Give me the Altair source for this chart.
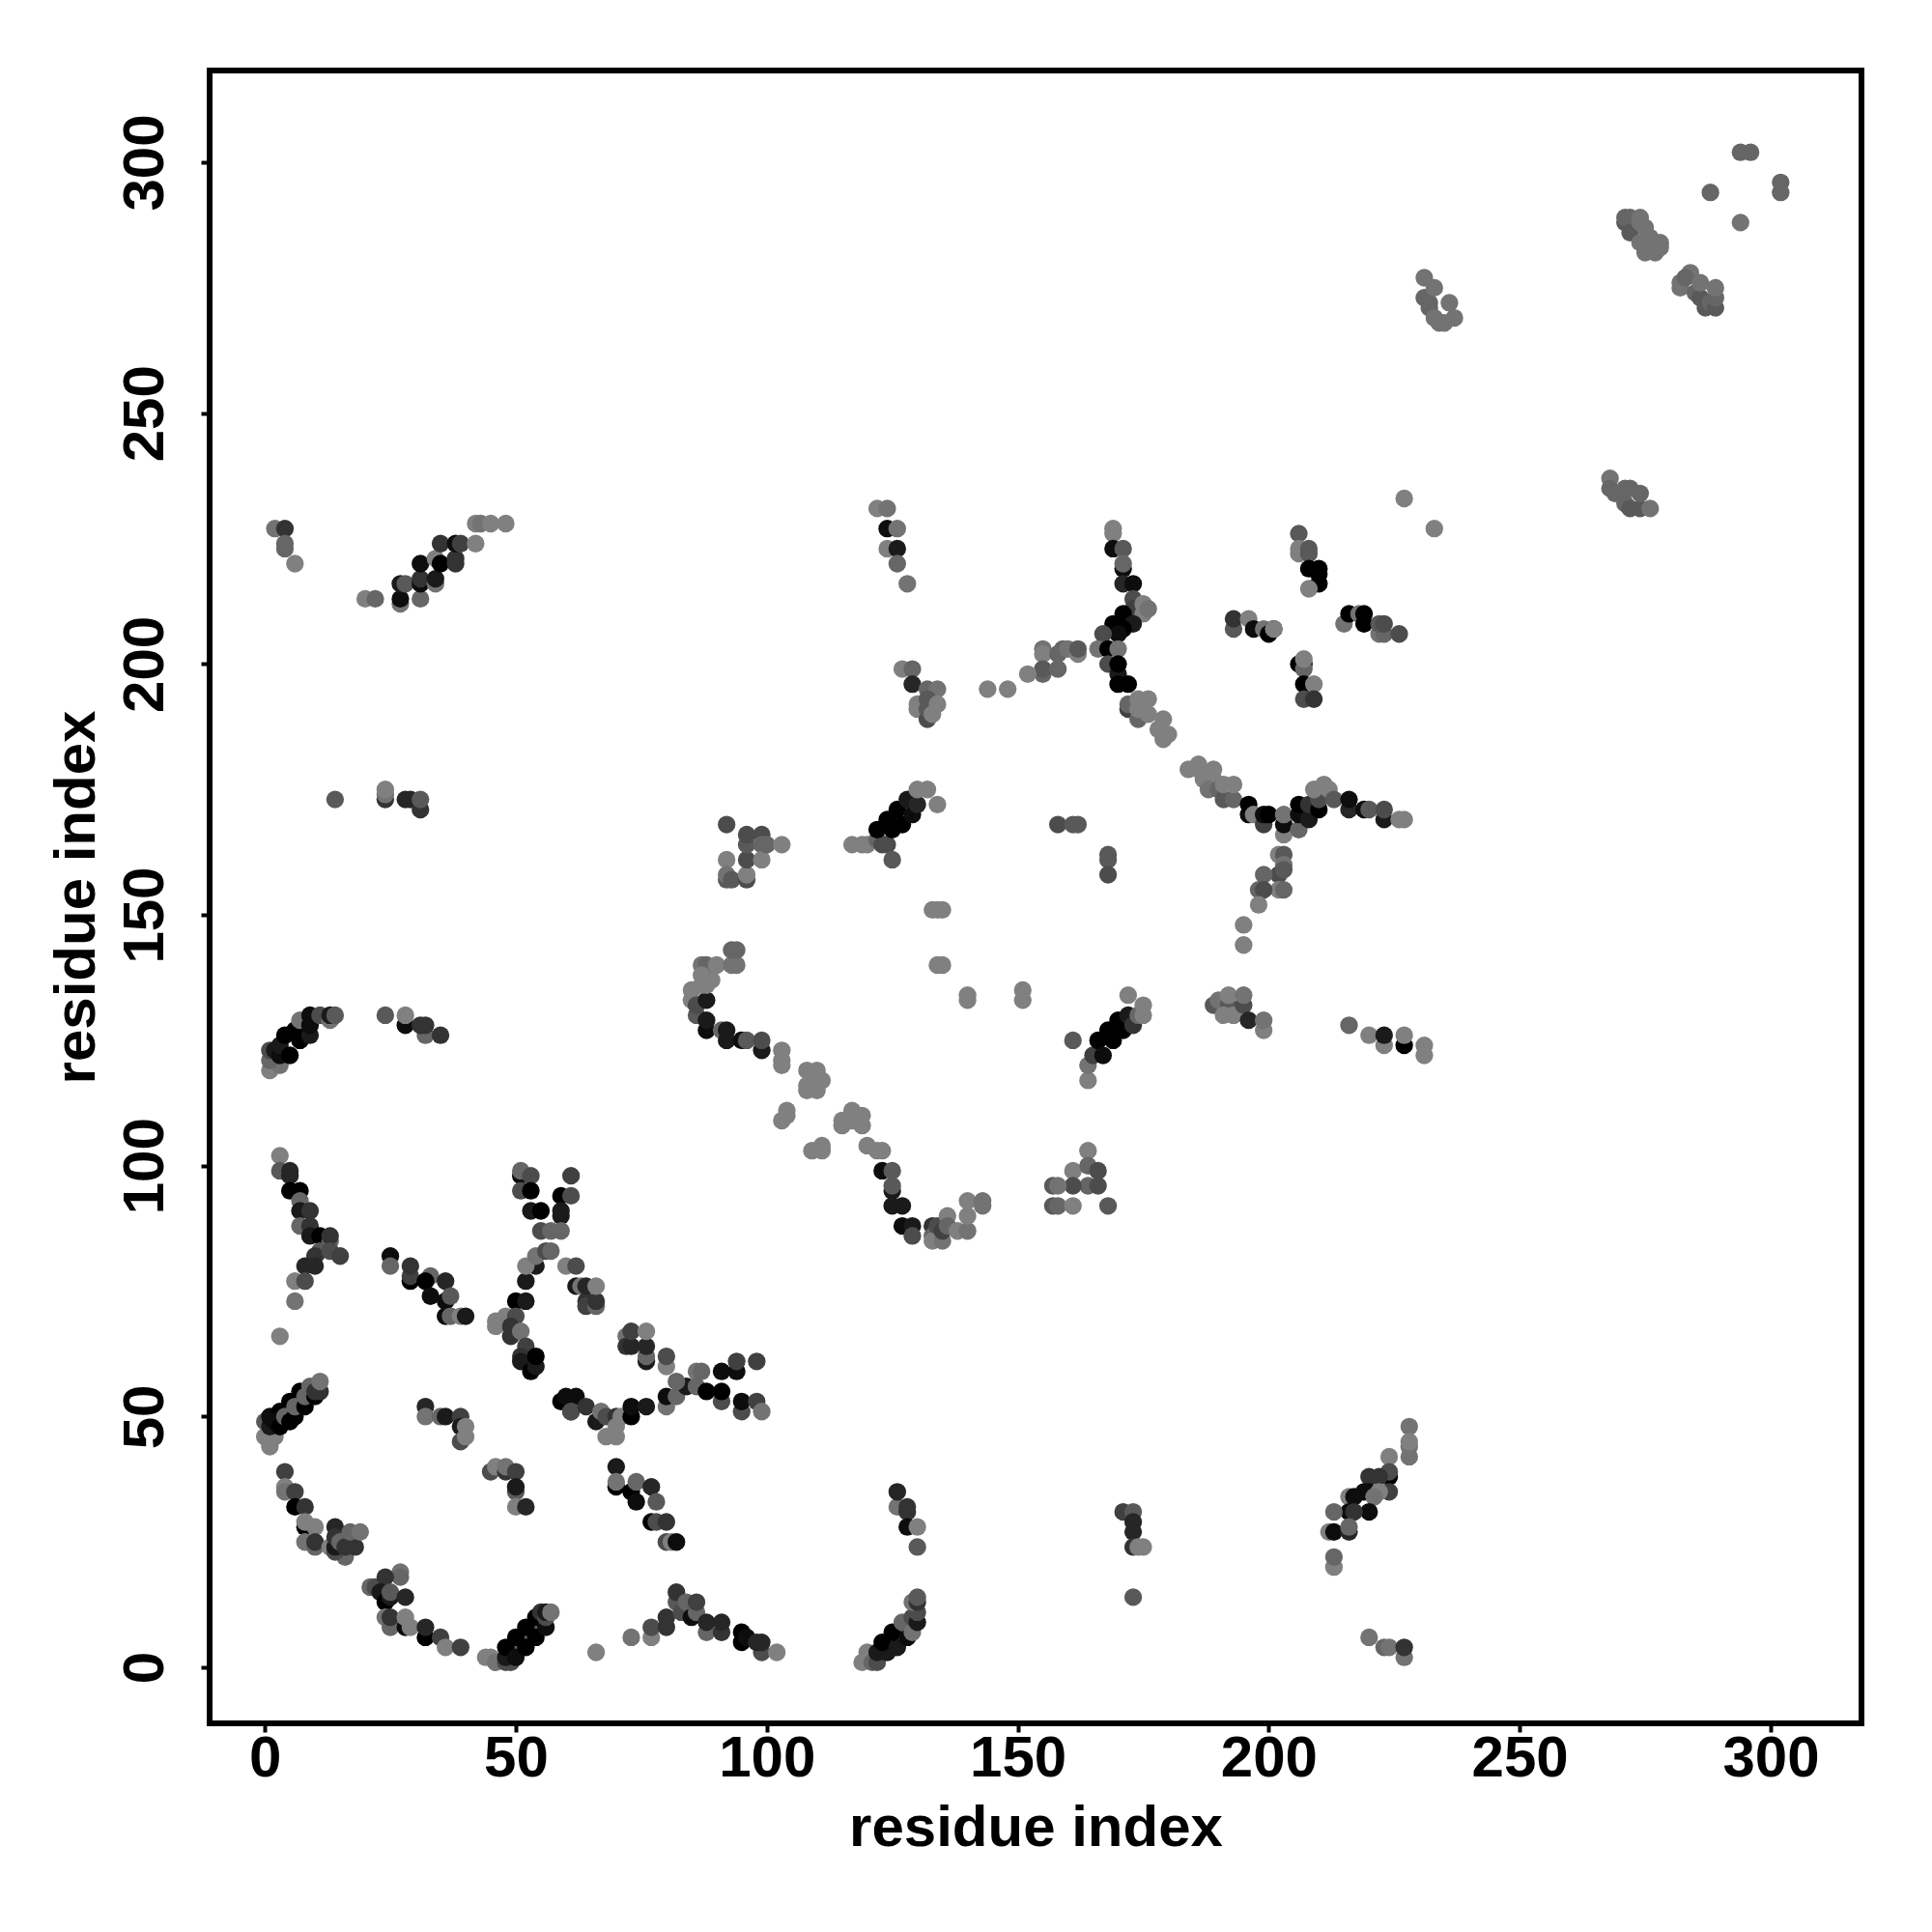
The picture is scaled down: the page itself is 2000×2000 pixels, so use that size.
import altair as alt
import pandas as pd

# Each contact is (residue x, residue y, grey level 0 = black .. 0.5 = mid grey)
arc_low_left = [(4,39,.25),(4,36,.5),(4,35,.45),(6,35,.25),(6,32,0),(8,32,.2),(8,28,0),(8,29,.5),(10,28,.5),(14,28,.15),
 (8,25,.45),(10,24,.4),(10,25,.2),(13,24,.5),(16,22,.4),(14,23,.3),(14,24,.1),(14,26,.2),(15,25,.4),(16,24,.2),(18,24,.2),(17,27,.4),(19,27,.45)]
arc_low_mid = [(27,19,.45),(27,18,.4),(21,16,.4),(22,16,.3),(24,18,.2),(23,15,.1),(24,13,0),(25,14,.1),(25,15,.35),(28,14,.15),
 (24,10,.45),(25,8,.4),(25,10,.2),(28,8,.05),(28,10,.5),(29,8,.5),(32,6,0),(32,8,.15),(35,6,.25),(36,4,.5),(39,4,.25)]
helix_a = [(44,2,.5),(45,2,.5),(46,1,.45),(48,1,.3),(49,1,.3),(49,3,.4),(51,5,.4),(53,7,.4),(55,9,.4),(48,2,.1),(48,4,0),(50,6,0),(52,8,0),(54,10,0),
 (50,2,.05),(52,4,0),(54,6,0),(56,8,.05),(55,11,.2),(56,10,.3),(56,11,.1),(57,11,.45)]
helix_b = [(1,46,.5),(1,44,.5),(0,46,.5),(2,46,.5),(0,49,.35),(1,48,.1),(1,50,.05),(3,51,0),(5,53,0),(7,55,0),(2,49,.05),(3,48,0),(4,50,.4),(5,49,0),(6,50,0),(6,52,.4),(8,52,0),(8,54,.4),(10,54,0),(9,56,.4),(10,55,.2),(11,55,.2),(11,57,.45)]
bridge_a = [(66,3,.5),(73,6,.45),(77,6,.5),(77,8,.3),(80,8,.2),(80,10,.2),(82,13,.35),(82,15,.2),(83,11,.3),(84,13,.4),(85,10,.05),(86,11,.4),(86,13,.25),
 (88,7,.4),(88,9,.15),(91,7,.2),(91,9,.15),(95,7,0),(95,5,0),(96,6,.05),(99,3,.3),(98,5,.15),(99,5,.15),(102,3,.5)]
strand_a = [(126,32,.45),(126,35,.15),(128,31,.2),(128,32,.2),(128,28,.05),(130,28,.5),(130,24,.35)]
helix_c = [(119,1,.5),(120,3,.5),(121,1,.4),(122,1,.3),(122,3,.1),(124,3,.1),(123,5,0),(126,4,.1),(125,7,0),(128,6,.05),(127,9,.4),(129,7,.45),(129,10,.3),(130,9,.1),(130,11,.3),(129,13,.45),(130,13,.2),(130,14,.35)]
strand_b = [(171,31,.25),(173,31,.35),(173,29,.15),(173,27,.15),(173,24,.2),(174,24,.5),(175,24,.5),(173,14,.35)]
strand_c = [(70,40,.1),(70,36,0),(70,37,.45),(73,35,0),(74,37,.4),(74,33,.05),(77,36,.15),(77,29,0),(78,29,.3),(78,33,.35),(80,29,.2),(80,25,.3),(81,25,.5),(82,25,.05)]
strand_d = [(32,52,.15),(32,50,.45),(35,50,.4),(36,50,.1),(39,50,.25),(39,48,.1),(40,48,.5),(39,45,.3),(40,46,.5)]
strand_e = [(45,39,.3),(46,40,.5),(48,39,.2),(48,40,.45),(50,39,.25),(50,35,.35),(50,36,.1),(50,32,.5),(52,32,.15)]
strand_f = [(25,82,.05),(25,80,.4),(29,77,0),(29,78,.25),(29,80,.2),(33,78,.4),(32,77,0),(33,74,.05),(36,77,.15),(36,73,.05),(37,74,.35),(36,70,.05),(37,70,.4),(39,70,.5),(40,70,.1)]
fork_a = [(46,69,.5),(46,68,.5),(48,70,.5),(50,73,0),(52,73,.1),(52,77,.1),(54,80,.1),(52,80,.5),(50,70,.3),(49,68,.2),(49,66,.2),(51,67,.45),(52,64,.25),(51,62,.2),(51,61,.1),(53,59,0),(54,60,.1),(54,62,0)]
fork_b = [(60,80,.5),(62,80,.3),(62,76,.1),(63,76,.45),(64,73,.2),(64,72,.25),(64,76,.15),(66,72,.4),(66,73,.2),(66,76,.5),
 (72,66,.45),(72,64,.2),(73,64,.15),(73,67,.25),(76,61,.1),(76,62,.4),(76,64,.15),(76,67,.5),(80,60,.5),(80,62,.3)]
row_a = [(59,53,0),(60,54,.05),(62,54,.05),(61,51,.2),(61,51,.3),(64,52,.2),(66,49,.1),(67,51,.45),(68,50,.3),(70,50,.2),(68,46,.5),(70,46,.5),(70,48,.5),(71,50,.5),(73,50,0),(73,52,.05),(76,52,.1),
 (80,52,.45),(80,54,.05),(82,54,.4),(84,56,.1),(82,57,.4),(86,59,.45),(86,56,.4),(87,59,.4),(88,55,0),(91,53,.3),(91,55,0),(91,59,.05),(94,59,.05),(94,61,.25),(95,51,.3),(95,53,.05),(98,53,.25),(98,61,.25),(99,51,.45)]
cluster_up = [(3,102,.5),(3,99,.35),(5,98,.15),(5,99,.15),(5,95,0),(7,95,0),(7,93,.4),(7,91,.1),(9,91,.2),(7,88,.4),(9,88,.2),(9,86,.1),(11,86,0),(13,85,.4),(13,86,.2),(11,83,.35),(10,82,.2),(13,83,.3),(15,82,.25),(8,80,.15),(10,80,.15),(6,77,.5),(8,77,.3),(6,73,.45),(3,66,.5)]
fork_c = [(51,98,.05),(51,99,.4),(53,98,.3),(51,95,.3),(53,95,0),(53,91,.1),(55,91,0),(61,98,.25),(59,94,0),(61,94,.3),(59,90,.1),(59,91,.1),(55,87,.3),(57,87,.4),(59,87,.4),(54,82,.45),(56,83,.3),(57,83,.4)]
helix_d = [(1,119,.5),(3,120,.45),(1,121,.4),(1,123,.3),(2,123,.1),(3,122,.05),(3,124,.1),(5,122,0),(4,126,0),(7,125,0),(6,127,0),(9,126,.1),(7,129,.45),(9,128,.05),(9,130,.05),(11,130,.3),(13,129,.45),(13,130,.1),(14,130,.35),
 (24,130,.35),(28,128,.05),(28,130,.5),(32,126,.4),(31,128,.2),(32,128,.2),(35,126,.2)]
diag_mid = [(87,140,.45),(88,140,.4),(90,140,.5),(93,140,.45),(94,140,.45),(93,143,.4),(94,143,.4),(85,135,.5),(85,133,.5),(86,130,.35),(86,132,.3),(88,133,.1),(87,136,.5),(87,138,.5),(88,136,.5),(89,137,.5),
 (88,127,.05),(88,129,.1),(91,127,.4),(92,125,.1),(92,127,.1),(95,125,.05),(96,125,.35),(99,123,.1),(99,125,.3),(103,123,.5),(103,121,.5),(103,120,.5),(108,119,.5),(110,119,.5),(110,117,.5),(111,117,.5),(108,116,.5),(108,115,.5),(110,115,.5),
 (104,111,.5),(104,110,.5),(103,109,.5),(109,103,.5),(111,104,.5),(111,103,.5),(117,111,.5),(115,109,.5),(119,110,.5),(119,108,.5),(115,108,.5),(117,109,.5),(120,104,.5),(122,103,.5),(123,103,.5)]
valley = [(123,99,.05),(125,99,.35),(125,95,.1),(125,96,.35),(125,92,.1),(127,92,.1),(127,88,.05),(129,88,.1),(129,86,.3),(133,88,.2),(133,86,.4),(133,85,.5),(135,85,.45),(134,88,.3),(135,87,.25),(136,90,.5),(136,88,.4),(138,87,.5),(140,87,.45),(140,93,.5),(140,90,.5),(143,93,.45),(143,92,.45)]
sparse_a = [(134,140,.5),(135,140,.5),(140,134,.5),(140,133,.5),(151,135,.5),(151,133,.5),(133,151,.5),(134,151,.5),(135,151,.5),(161,125,.35)]
helix_e = [(164,117,.5),(164,120,.45),(165,122,.25),(166,125,0),(167,122,.05),(168,127,0),(169,125,0),(170,129,0),(171,127,0),(172,130,.1),(173,128,.2),(174,130,.4),(172,134,.5),(175,132,.5),(175,130,.5)]
patch_a = [(164,103,.5),(161,99,.5),(164,100,.4),(166,99,.3),(164,96,.4),(166,96,.3),(161,96,.3),(157,96,.35),(158,96,.45),(157,92,.35),(158,92,.4),(161,92,.5),(168,92,.35)]
star_up = [(169,227,.5),(169,226,.5),(169,223,.05),(171,223,.35),(171,219,.05),(171,220,.4),(171,216,.15),(173,216,.05),(173,213,.3),(173,211,.25),(175,212,.5),(175,210,.5),(176,211,.45),
 (169,208,0),(171,210,0),(173,208,.1),(171,207,0),(170,206,.05),(167,206,.3),(166,203,.45),(168,203,0),(170,203,.45),(168,200,.3),(170,198,.1),(170,200,0),(170,196,0),(172,196,0),
 (172,191,.25),(172,192,.4),(174,193,.5),(176,193,.5),(174,189,.4),(174,191,.5),(176,190,.5),(178,187,.5),(179,189,.5),(180,186,.5),(179,185,.5)]
star_left = [(155,203,.45),(155,202,.5),(158,202,.4),(159,203,.4),(160,203,.45),(162,202,.5),(162,203,.35),(155,198,.4),(155,199,.35),(158,199,.4),(152,198,.5),(148,195,.5),(144,195,.5),
 (158,168,.3),(161,168,.35),(162,168,.35),(168,162,.35),(168,161,.35),(168,158,.3)]
blobs = [(193,207,.35),(193,209,.2),(196,209,.5),(197,207,.05),(199,207,.45),(200,206,0),(201,207,0),(201,207,.5),
 (206,226,.35),(206,222,.5),(206,223,.5),(208,222,.35),(208,223,.35),(208,219,0),(210,218,0),(210,219,0),(210,216,0),(208,215,.5),
 (206,200,0),(207,200,0),(207,199,.4),(207,201,.5),(207,196,0),(209,196,.5),(207,193,.3),(209,193,.2),
 (215,208,.45),(216,210,0),(218,210,.45),(219,208,0),(219,210,0),(222,206,.45),(223,206,.4),(222,208,.35),(223,208,.3),(226,206,.3)]
ridge = [(184,179,.5),(186,179,.5),(186,180,.5),(189,179,.5),(187,177,.5),(189,177,.5),(188,175,.45),(190,175,.4),(191,173,.35),(193,173,.4),(191,176,.5),(193,176,.5),(196,170,.05),(196,172,0),(197,170,.5),
 (199,168,.25),(199,170,.05),(200,170,0),(203,166,.5),(203,168,.05),(203,170,.45),(206,167,.4),(206,170,.05),(206,172,0),(208,169,.1),(208,172,.2),(210,171,0),(210,173,.3),(209,175,.5),(211,176,.5),(212,175,.5),(213,173,.35),
 (216,171,.15),(216,173,.05),(219,171,.05),(220,171,.35),(223,169,.1),(223,171,.3),(226,169,.5),(227,169,.5)]
stem = [(202,162,.5),(203,162,.35),(203,160,.45),(202,158,.3),(203,159,.35),(202,155,.5),(203,155,.4),(199,158,.4),(198,155,.4),(199,155,.3),(198,152,.5),(195,148,.5),(195,144,.5),
 (189,132,.35),(190,133,.45),(192,132,.35),(192,134,.5),(191,130,.5),(193,130,.5),(195,132,.3),(195,134,.45),(196,129,.15),(199,127,.5),(199,129,.45),
 (216,128,.4),(220,126,.5),(223,124,.5),(223,126,.1),(227,124,0),(227,126,.5),(231,122,.5),(231,124,.5)]
top_left = [(2,227,.45),(4,227,.2),(4,223,.4),(4,224,.4),(6,220,.5),(20,213,.5),(22,213,.4),(27,212,.45),(27,213,.05),(31,213,.4),(27,216,.1),(28,216,.35),(31,216,.05),(31,217,.2),(34,216,.45),(34,217,.1),
 (31,220,.05),(34,221,.5),(35,220,0),(38,220,.2),(38,221,.2),(35,224,.2),(38,224,.05),(39,224,.25),(42,224,.5),(42,228,.5),(43,228,.45),(45,228,.5),(48,228,.5),
 (14,173,.35),(24,173,.2),(24,174,.45),(24,175,.5),(28,173,.15),(29,173,.15),(31,171,.2),(31,173,.35)]
top_mid = [(122,231,.5),(124,231,.45),(124,227,.05),(126,227,.45),(124,223,.5),(126,223,.1),(126,220,.4),(128,216,.45),
 (127,199,.5),(129,199,.4),(129,196,.15),(132,195,.4),(134,195,.45),(130,191,.5),(130,192,.5),(132,189,.3),(132,191,.35),(132,193,.35),(133,190,.5),(134,192,.5),
 (92,168,.3),(92,161,.5),(92,157,.35),(92,158,.45),(93,157,.35),(96,157,.3),(96,158,.5),(96,161,.3),(96,164,.35),(96,166,.3),(99,166,.3),(99,164,.4),(99,161,.5),(100,164,.4),(103,164,.5)]
helix_f = [(117,164,.5),(119,164,.5),(120,164,.5),(122,165,.4),(123,164,.3),(124,164,.3),(122,167,0),(125,167,0),(124,169,0),(127,168,0),(126,171,0),(129,170,.05),(128,173,.1),(130,172,.15),(130,175,.5),(132,175,.5),(134,172,.5),(125,161,.35)]
top_right = [(294,302,.4),(296,302,.4),(288,294,.4),(302,294,.4),(302,296,.4),(294,288,.45),(227,233,.5),(233,227,.5),
 (271,288,.35),(271,289,.4),(272,289,.4),(272,286,.35),(274,289,.45),(274,288,.45),(275,287,.45),(276,285,.45),(274,284,.45),(278,284,.45),(275,282,.45),(277,282,.45),(278,283,.45),
 (284,278,.45),(282,275,.45),(282,276,.45),(283,277,.4),(285,274,.4),(286,273,.35),(286,276,.45),(287,271,.35),(288,272,.4),(289,271,.35),(289,273,.4),(289,275,.45),
 (268,237,.45),(268,235,.4),(269,234,.4),(271,232,.4),(271,235,.4),(272,231,.35),(272,235,.4),(274,231,.35),(274,234,.4),(276,231,.45),
 (231,277,.45),(231,273,.4),(232,271,.4),(232,272,.4),(233,275,.45),(233,269,.45),(234,268,.45),(235,268,.45),(236,272,.45),(237,269,.45)]
bottom_right = [(228,48,.45),(228,42,.45),(228,44,.45),(228,45,.5),(224,42,.5),(224,38,0),(224,39,.3),(224,35,.25),(220,38,.2),(222,38,.2),(219,35,.05),(220,35,.05),(222,35,.5),(221,34,.45),(220,31,.05),(216,34,.5),(217,34,.05),(216,31,.05),(217,31,.2),(213,31,.4),
 (212,27,.5),(213,27,.05),(216,27,.15),(216,28,.4),(213,20,.5),(213,22,.4),(220,6,.45),(223,4,.4),(224,4,.45),(227,2,.45),(227,4,.2)]

groups = [arc_low_left, arc_low_mid, helix_a, helix_b, bridge_a, strand_a, helix_c, strand_b, strand_c, strand_d, strand_e,
          strand_f, fork_a, fork_b, row_a, cluster_up, fork_c, helix_d, diag_mid, valley, sparse_a, helix_e, patch_a,
          star_up, star_left, blobs, ridge, stem, top_left, top_mid, helix_f, top_right, bottom_right]
tick_values = [0, 50, 100, 150, 200, 250, 300]
axis_label = "residue index"

rows = []
for group in groups:
    for x, y, g in group:
        v = round(g * 255)
        rows.append({"x": x, "y": y, "c": f"#{v:02x}{v:02x}{v:02x}"})
df = pd.DataFrame(rows)
df["o"] = range(len(df))

font = "Liberation Sans"
x_axis = alt.Axis(values=tick_values, grid=False, domain=False, ticks=True, tickSize=9, tickWidth=4, tickColor="black",
                  labelFont=font, labelFontSize=60, labelFontWeight="bold", labelColor="black", labelPadding=45,
                  labelBaseline="alphabetic", labelFlush=False, labelOverlap=False, format="d",
                  title=axis_label, titleFont=font, titleFontSize=60, titleFontWeight="bold", titleColor="black",
                  titleBaseline="alphabetic", titleY=126)
y_axis = alt.Axis(values=tick_values, grid=False, domain=False, ticks=True, tickSize=9, tickWidth=4, tickColor="black",
                  labelFont=font, labelFontSize=60, labelFontWeight="bold", labelColor="black", labelPadding=40,
                  labelAngle=270, labelAlign="center", labelBaseline="alphabetic", labelFlush=False, labelOverlap=False, format="d",
                  title=axis_label, titleFont=font, titleFontSize=60, titleFontWeight="bold", titleColor="black",
                  titleBaseline="alphabetic", titleX=-120)

chart = (
    alt.Chart(df)
    .mark_circle(size=335, opacity=1)
    .encode(
        x=alt.X("x:Q", scale=alt.Scale(domain=[-11, 318.1], nice=False, zero=False), axis=x_axis),
        y=alt.Y("y:Q", scale=alt.Scale(domain=[-11.15, 318.3], nice=False, zero=False), axis=y_axis),
        color=alt.Color("c:N", scale=None),
        order=alt.Order("o:Q"),
    )
    .properties(
        width=1710, height=1711,
        autosize=alt.AutoSizeParams(type="none"),
        padding={"left": 209, "top": 65, "right": 60, "bottom": 200},
        background="white",
    )
    .configure_view(stroke="black", strokeWidth=6, fill="white")
)
chart.save("out.html", embed_options={"renderer": "svg", "actions": False})
